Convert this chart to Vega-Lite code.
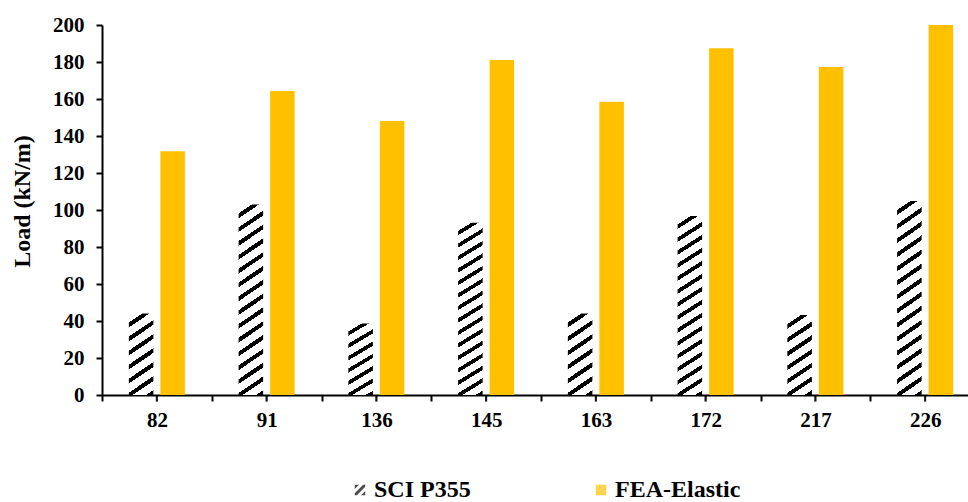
{
  "$schema": "https://vega.github.io/schema/vega-lite/v6.json",
  "width": 866,
  "height": 370,
  "autosize": {"type": "none"},
  "padding": {"left": 102, "top": 25, "right": 0, "bottom": 107},
  "background": "white",
  "config": {
    "view": {"stroke": null},
    "font": "Liberation Serif",
    "axis": {
      "grid": false,
      "domainColor": "black",
      "domainWidth": 2,
      "tickColor": "black",
      "tickWidth": 2,
      "tickSize": 6,
      "labelColor": "black",
      "labelFont": "Liberation Serif",
      "labelFontWeight": "bold",
      "labelFontSize": 21,
      "labelOverlap": false,
      "titleFont": "Liberation Serif",
      "titleFontWeight": "bold",
      "titleFontSize": 24,
      "titleColor": "black"
    }
  },
  "data": {
    "values": [
      {"span": "82", "series": "SCI P355", "load": 44.1},
      {"span": "82", "series": "FEA-Elastic", "load": 131.7},
      {"span": "91", "series": "SCI P355", "load": 103},
      {"span": "91", "series": "FEA-Elastic", "load": 164.3},
      {"span": "136", "series": "SCI P355", "load": 38.7},
      {"span": "136", "series": "FEA-Elastic", "load": 148.1},
      {"span": "145", "series": "SCI P355", "load": 93.1},
      {"span": "145", "series": "FEA-Elastic", "load": 181.1},
      {"span": "163", "series": "SCI P355", "load": 44.1},
      {"span": "163", "series": "FEA-Elastic", "load": 158.5},
      {"span": "172", "series": "SCI P355", "load": 96.8},
      {"span": "172", "series": "FEA-Elastic", "load": 187.4},
      {"span": "217", "series": "SCI P355", "load": 43.2},
      {"span": "217", "series": "FEA-Elastic", "load": 177.3},
      {"span": "226", "series": "SCI P355", "load": 104.9},
      {"span": "226", "series": "FEA-Elastic", "load": 200}
    ]
  },
  "layer": [
    {
      "mark": {"type": "point", "filled": true, "size": 110, "yOffset": -12},
      "encoding": {
        "x": {
          "field": "span",
          "type": "nominal",
          "sort": null,
          "scale": {"domain": ["82", "91", "136", "145", "163", "172", "217", "226"], "range": [0, 878], "paddingInner": 0, "paddingOuter": 0},
          "axis": {"title": null, "labelAngle": 0, "tickBand": "extent", "labelPadding": 8}
        },
        "xOffset": {
          "field": "series",
          "type": "nominal",
          "scale": {"domain": ["SCI P355", "FEA-Elastic"], "paddingInner": 0.222, "paddingOuter": 0.853}
        },
        "y": {
          "datum": 0,
          "type": "quantitative",
          "scale": {"domain": [0, 200], "nice": false},
          "axis": {"title": "Load (kN/m)", "tickCount": 10, "labelOverlap": false, "labelPadding": 12, "titlePadding": 18, "titleY": 176}
        },
        "color": {
          "field": "series",
          "type": "nominal",
          "scale": {"domain": ["SCI P355", "FEA-Elastic"], "range": ["black", "#FFC000"]},
          "legend": {
            "title": null,
            "orient": "none",
            "legendX": 246,
            "legendY": 453,
            "direction": "horizontal",
            "symbolSize": 110,
            "symbolStrokeWidth": 0,
            "labelFont": "Liberation Serif",
            "labelFontWeight": "bold",
            "labelFontSize": 24,
            "labelColor": "black",
            "labelOffset": 2,
            "labelLimit": 300,
            "columnPadding": 118,
            "padding": 0
          }
        },
        "shape": {
          "field": "series",
          "type": "nominal",
          "scale": {"domain": ["SCI P355", "FEA-Elastic"], "range": ["M-1,-1L-0.2,-1L-1,-0.2Z M0.6,-1L1,-1L1,-0.6L-0.6,1L-1,1L-1,0.6Z M1,0.2L1,1L0.2,1Z", "square"]}
        }
      }
    },
    {
      "transform": [{"filter": "datum.series === 'FEA-Elastic'"}],
      "mark": {"type": "bar", "color": "#FFC000"},
      "encoding": {
        "x": {"field": "span", "type": "nominal", "sort": null},
        "xOffset": {"field": "series", "type": "nominal"},
        "y": {"field": "load", "type": "quantitative"}
      }
    },
    {
      "transform": [{"filter": "datum.series === 'SCI P355'"}],
      "mark": {"type": "bar"},
      "encoding": {
        "x": {"field": "span", "type": "nominal", "sort": null},
        "xOffset": {"field": "series", "type": "nominal"},
        "y": {"field": "load", "type": "quantitative"},
        "color": {
          "condition": {
            "test": "datum.load < 70",
            "value": {"gradient": "linear", "x1": 0, "y1": 0, "x2": 0.2361, "y2": 1.156, "stops": [
              {"offset": 0, "color": "white"}, {"offset": 0.092857, "color": "white"}, {"offset": 0.092857, "color": "black"}, {"offset": 0.142857, "color": "black"},
              {"offset": 0.142857, "color": "white"}, {"offset": 0.235714, "color": "white"}, {"offset": 0.235714, "color": "black"}, {"offset": 0.285714, "color": "black"},
              {"offset": 0.285714, "color": "white"}, {"offset": 0.378571, "color": "white"}, {"offset": 0.378571, "color": "black"}, {"offset": 0.428571, "color": "black"},
              {"offset": 0.428571, "color": "white"}, {"offset": 0.521429, "color": "white"}, {"offset": 0.521429, "color": "black"}, {"offset": 0.571429, "color": "black"},
              {"offset": 0.571429, "color": "white"}, {"offset": 0.664286, "color": "white"}, {"offset": 0.664286, "color": "black"}, {"offset": 0.714286, "color": "black"},
              {"offset": 0.714286, "color": "white"}, {"offset": 0.807143, "color": "white"}, {"offset": 0.807143, "color": "black"}, {"offset": 0.857143, "color": "black"},
              {"offset": 0.857143, "color": "white"}, {"offset": 0.95, "color": "white"}, {"offset": 0.95, "color": "black"}, {"offset": 1, "color": "black"}
            ]}
          },
          "value": {"gradient": "linear", "x1": 0, "y1": 0, "x2": 0.0939, "y2": 1.079, "stops": [
            {"offset": 0, "color": "white"}, {"offset": 0.04333, "color": "white"}, {"offset": 0.04333, "color": "black"}, {"offset": 0.06667, "color": "black"},
            {"offset": 0.06667, "color": "white"}, {"offset": 0.11, "color": "white"}, {"offset": 0.11, "color": "black"}, {"offset": 0.13333, "color": "black"},
            {"offset": 0.13333, "color": "white"}, {"offset": 0.17667, "color": "white"}, {"offset": 0.17667, "color": "black"}, {"offset": 0.2, "color": "black"},
            {"offset": 0.2, "color": "white"}, {"offset": 0.24333, "color": "white"}, {"offset": 0.24333, "color": "black"}, {"offset": 0.26667, "color": "black"},
            {"offset": 0.26667, "color": "white"}, {"offset": 0.31, "color": "white"}, {"offset": 0.31, "color": "black"}, {"offset": 0.33333, "color": "black"},
            {"offset": 0.33333, "color": "white"}, {"offset": 0.37667, "color": "white"}, {"offset": 0.37667, "color": "black"}, {"offset": 0.4, "color": "black"},
            {"offset": 0.4, "color": "white"}, {"offset": 0.44333, "color": "white"}, {"offset": 0.44333, "color": "black"}, {"offset": 0.46667, "color": "black"},
            {"offset": 0.46667, "color": "white"}, {"offset": 0.51, "color": "white"}, {"offset": 0.51, "color": "black"}, {"offset": 0.53333, "color": "black"},
            {"offset": 0.53333, "color": "white"}, {"offset": 0.57667, "color": "white"}, {"offset": 0.57667, "color": "black"}, {"offset": 0.6, "color": "black"},
            {"offset": 0.6, "color": "white"}, {"offset": 0.64333, "color": "white"}, {"offset": 0.64333, "color": "black"}, {"offset": 0.66667, "color": "black"},
            {"offset": 0.66667, "color": "white"}, {"offset": 0.71, "color": "white"}, {"offset": 0.71, "color": "black"}, {"offset": 0.73333, "color": "black"},
            {"offset": 0.73333, "color": "white"}, {"offset": 0.77667, "color": "white"}, {"offset": 0.77667, "color": "black"}, {"offset": 0.8, "color": "black"},
            {"offset": 0.8, "color": "white"}, {"offset": 0.84333, "color": "white"}, {"offset": 0.84333, "color": "black"}, {"offset": 0.86667, "color": "black"},
            {"offset": 0.86667, "color": "white"}, {"offset": 0.91, "color": "white"}, {"offset": 0.91, "color": "black"}, {"offset": 0.93333, "color": "black"},
            {"offset": 0.93333, "color": "white"}, {"offset": 0.97667, "color": "white"}, {"offset": 0.97667, "color": "black"}, {"offset": 1, "color": "black"}
          ]}
        }
      }
    },
    {
      "mark": {"type": "tick", "orient": "vertical", "size": 6, "thickness": 2, "color": "black", "yOffset": 3.5},
      "encoding": {
        "x": {"field": "span", "type": "nominal", "sort": null},
        "y": {"datum": 0, "type": "quantitative"}
      }
    }
  ]
}
